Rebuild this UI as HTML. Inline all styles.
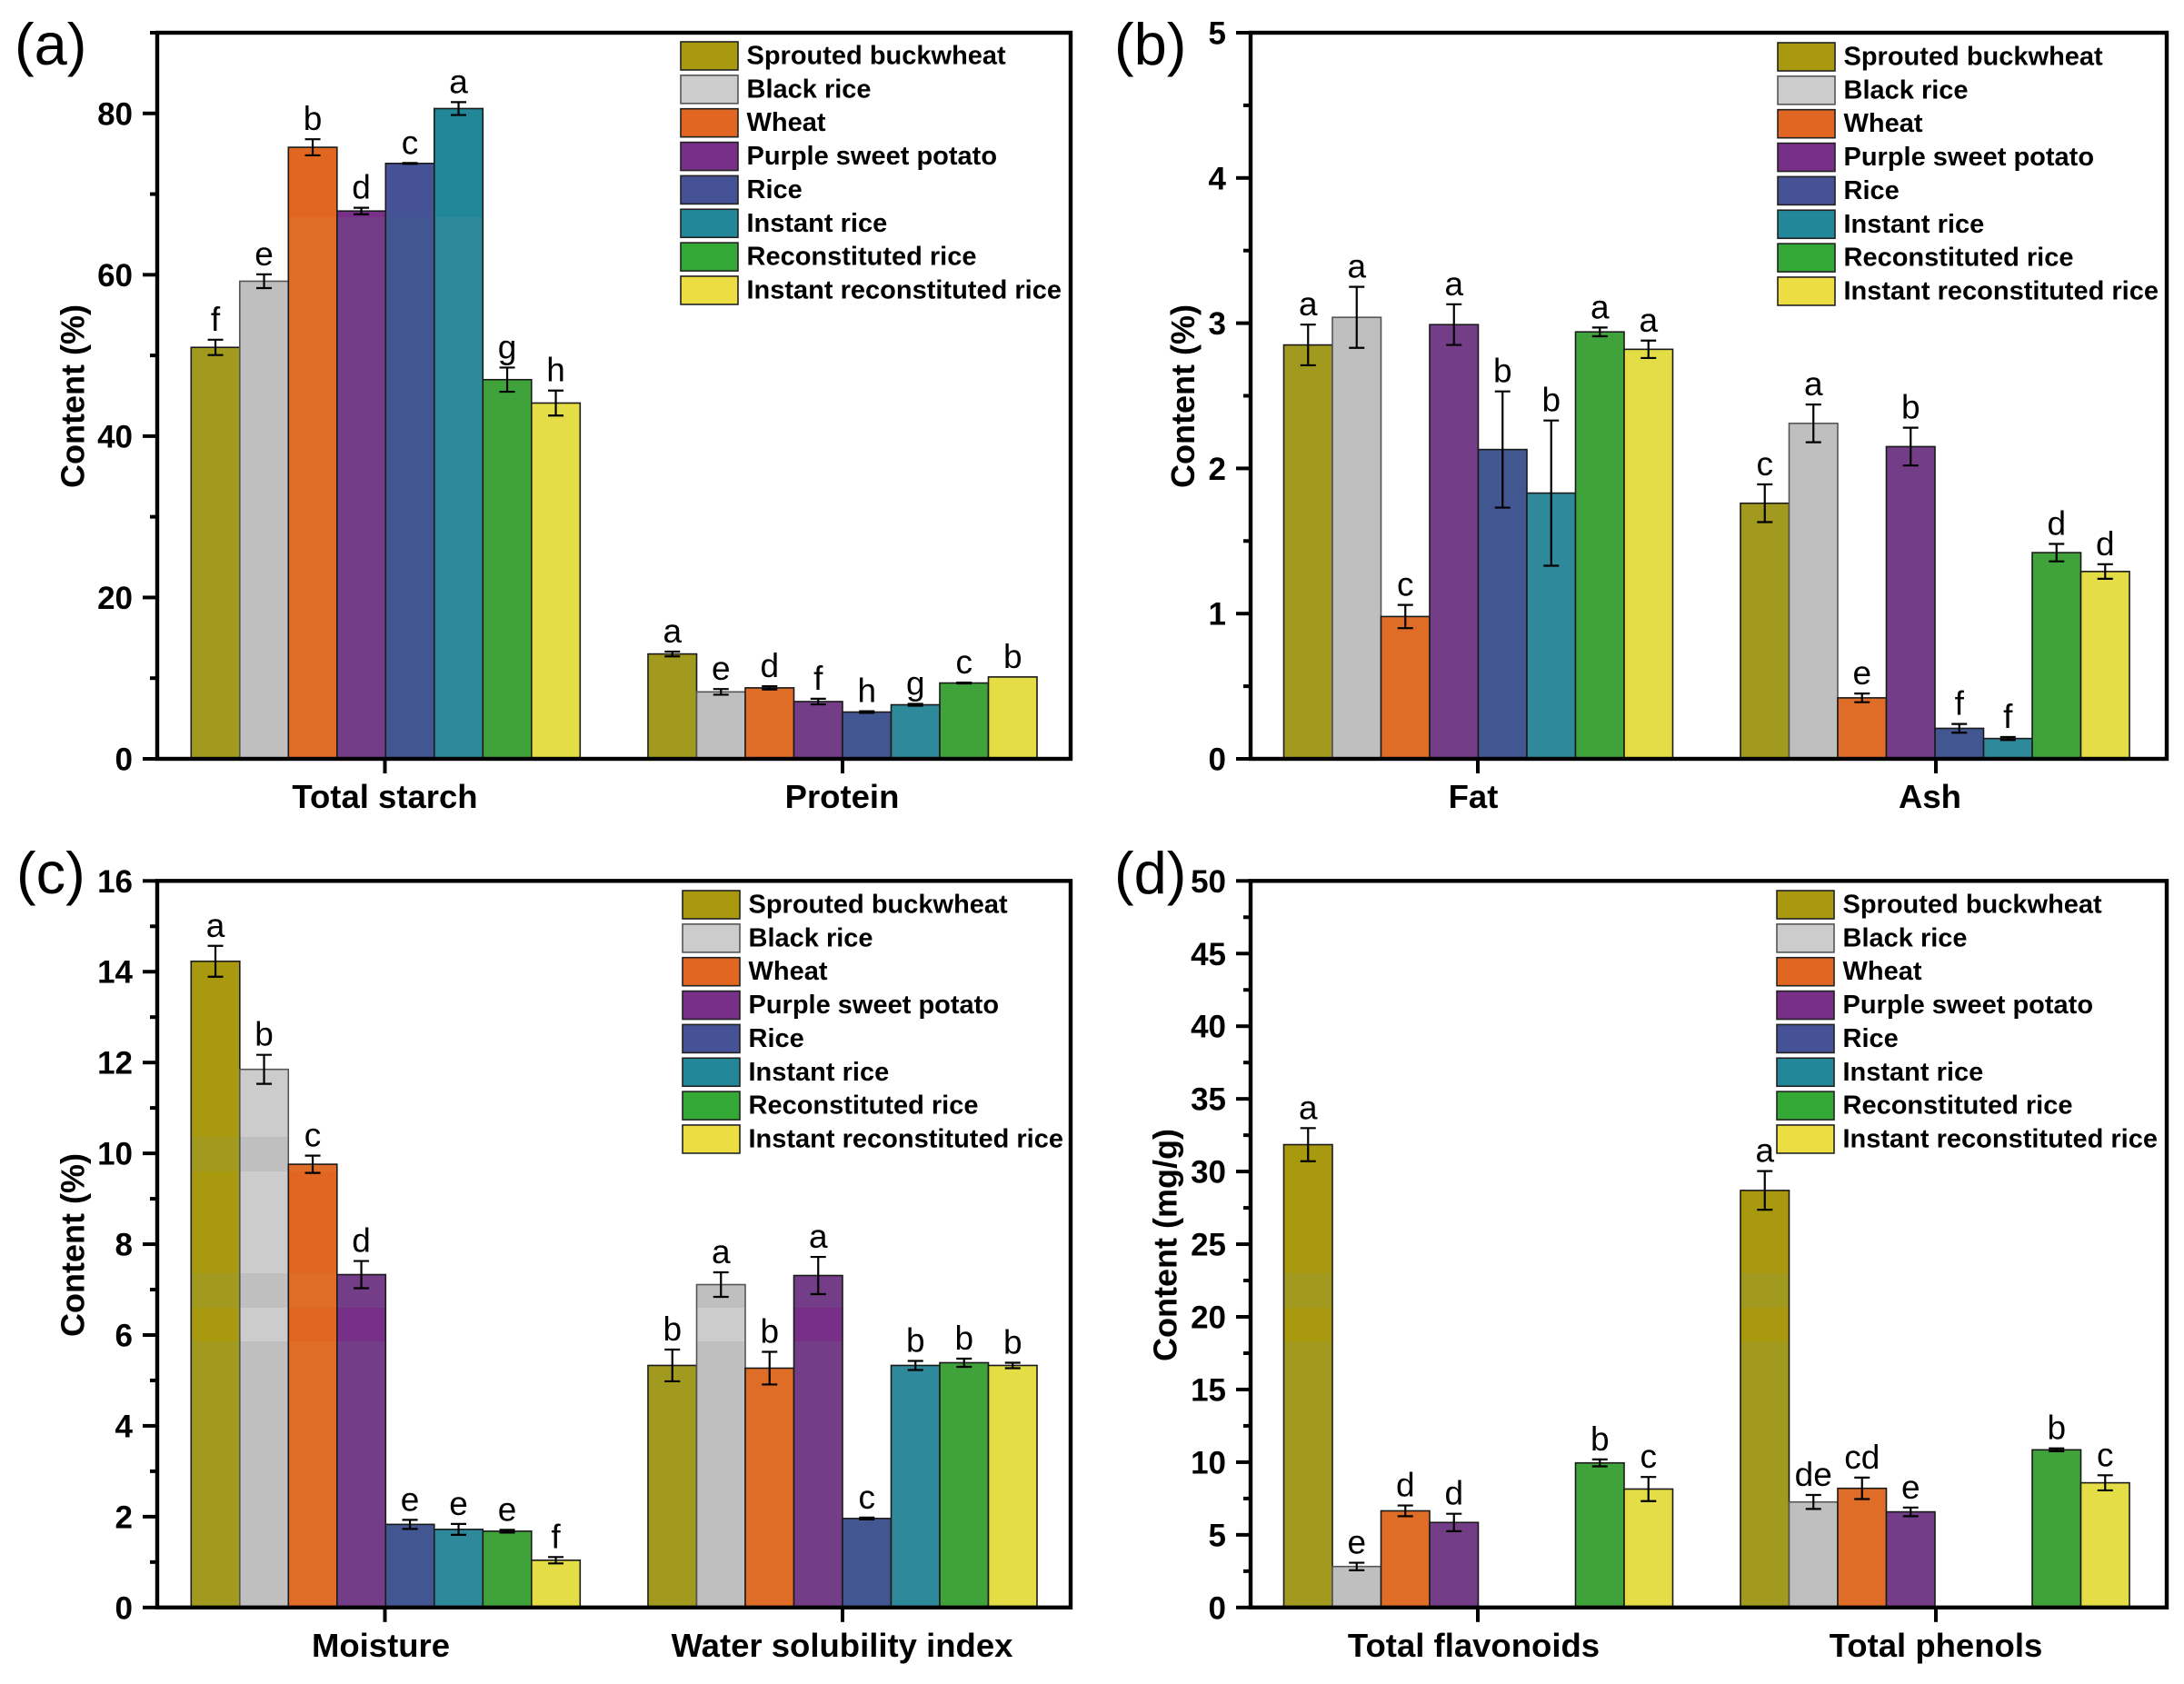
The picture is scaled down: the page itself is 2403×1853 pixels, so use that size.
<!DOCTYPE html>
<html lang="en">
<head>
<meta charset="utf-8">
<title>Composition of buckwheat, rice and wheat samples</title>
<style>
  html, body { margin: 0; padding: 0; background: #fff; }
  svg { display: block; font-family: "Liberation Sans", Arial, sans-serif; }
</style>
</head>
<body>
<svg id="figure" xmlns="http://www.w3.org/2000/svg" width="2403" height="1853" viewBox="0 0 2403 1853">
  <rect x="0" y="0" width="2403" height="1853" fill="#ffffff"/>
  <defs id="gradient-defs"></defs>
</svg>
<script>
// Series and colours
const seriesNames = ["Sprouted buckwheat", "Black rice", "Wheat", "Purple sweet potato", "Rice", "Instant rice", "Reconstituted rice", "Instant reconstituted rice"];
const brightColors = ["#A9990F", "#CCCCCC", "#E06622", "#772F88", "#465296", "#228799", "#34A835", "#EBDD42"];
const dullColors = ["#A29A1F", "#BFBFBF", "#DF6D28", "#733D87", "#425692", "#2E8A9B", "#40A23A", "#E4DD45"];

// Panel (a)
const panelACategories = ["Total starch", "Protein"];
const starchValues = [51, 59.2, 75.8, 67.9, 73.8, 80.6, 47, 44.1];
const starchErrors = [0.95, 0.85, 1, 0.4, 0.05, 0.8, 1.5, 1.55];
const starchLetters = ["f", "e", "b", "d", "c", "a", "g", "h"];
const proteinValues = [13, 8.3, 8.8, 7.1, 5.8, 6.7, 9.4, 10.15];
const proteinErrors = [0.3, 0.35, 0.2, 0.35, 0.1, 0.12, 0.05, 0];
const proteinLetters = ["a", "e", "d", "f", "h", "g", "c", "b"];
const panelATicks = [0, 20, 40, 60, 80];
const panelAMinorTicks = [10, 30, 50, 70, 90];

// Panel (b)
const panelBCategories = ["Fat", "Ash"];
const fatValues = [2.85, 3.04, 0.98, 2.99, 2.13, 1.83, 2.94, 2.82];
const fatErrors = [0.14, 0.21, 0.08, 0.14, 0.4, 0.5, 0.03, 0.06];
const fatLetters = ["a", "a", "c", "a", "b", "b", "a", "a"];
const ashValues = [1.76, 2.31, 0.42, 2.15, 0.21, 0.14, 1.42, 1.29];
const ashErrors = [0.13, 0.13, 0.03, 0.13, 0.03, 0.01, 0.06, 0.05];
const ashLetters = ["c", "a", "e", "b", "f", "f", "d", "d"];
const panelBTicks = [0, 1, 2, 3, 4, 5];
const panelBMinorTicks = [0.5, 1.5, 2.5, 3.5, 4.5];

// Panel (c)
const panelCCategories = ["Moisture", "Water solubility index"];
const moistureValues = [14.23, 11.85, 9.76, 7.33, 1.83, 1.72, 1.68, 1.04];
const moistureErrors = [0.34, 0.32, 0.19, 0.3, 0.1, 0.12, 0.03, 0.07];
const moistureLetters = ["a", "b", "c", "d", "e", "e", "e", "f"];
const solubilityValues = [5.33, 7.11, 5.27, 7.31, 1.96, 5.33, 5.39, 5.33];
const solubilityErrors = [0.35, 0.27, 0.36, 0.41, 0.02, 0.1, 0.09, 0.06];
const solubilityLetters = ["b", "a", "b", "a", "c", "b", "b", "b"];
const panelCTicks = [0, 2, 4, 6, 8, 10, 12, 14, 16];
const panelCMinorTicks = [1, 3, 5, 7, 9, 11, 13, 15];

// Panel (d)
const panelDCategories = ["Total flavonoids", "Total phenols"];
const flavonoidValues = [31.85, 2.82, 6.65, 5.85, null, null, 9.95, 8.15];
const flavonoidErrors = [1.14, 0.26, 0.37, 0.6, 0, 0, 0.24, 0.83];
const flavonoidLetters = ["a", "e", "d", "d", "", "", "b", "c"];
const phenolValues = [28.7, 7.26, 8.2, 6.58, null, null, 10.85, 8.58];
const phenolErrors = [1.33, 0.48, 0.74, 0.3, 0, 0, 0.1, 0.52];
const phenolLetters = ["a", "de", "cd", "e", "", "", "b", "c"];
const panelDTicks = [0, 5, 10, 15, 20, 25, 30, 35, 40, 45, 50];
const panelDMinorTicks = [2.5, 7.5, 12.5, 17.5, 22.5, 27.5, 32.5, 37.5, 42.5, 47.5];

const NS = "http://www.w3.org/2000/svg";
const figure = document.getElementById("figure");
const defs = document.getElementById("gradient-defs");
const BAR_W = 53.5;

function make(tag, parent, attrs, text) {
  const el = document.createElementNS(NS, tag);
  for (const k in attrs) el.setAttribute(k, attrs[k]);
  if (text !== undefined) el.textContent = text;
  parent.appendChild(el);
  return el;
}

const panels = [
  { id: "a", label: "(a)", labelX: 16, labelY: 71, left: 173, right: 1178, top: 36, bottom: 835, yMax: 90, ticks: panelATicks, minor: panelAMinorTicks,
    centers: [424.3, 927], tickAt: [423.5, 927], labelAt: [423.5, 926.5], categories: panelACategories, values: [starchValues, proteinValues], errors: [starchErrors, proteinErrors], letters: [starchLetters, proteinLetters],
    title: "Content (%)", titleX: 92.5, titleY: 436, legendX: 749, legendY: 46, dullBelow: [[239, 900]] },
  { id: "b", label: "(b)", labelX: 1226, labelY: 71, left: 1376, right: 2384, top: 36, bottom: 835, yMax: 5, ticks: panelBTicks, minor: panelBMinorTicks,
    centers: [1626.5, 2129], tickAt: [1626, 2130], labelAt: [1621, 2123.5], categories: panelBCategories, values: [fatValues, ashValues], errors: [fatErrors, ashErrors], letters: [fatLetters, ashLetters],
    title: "Content (%)", titleX: 1314, titleY: 436, legendX: 1956, legendY: 47, dullBelow: [[0, 900]] },
  { id: "c", label: "(c)", labelX: 18, labelY: 983, left: 173, right: 1178, top: 969.3, bottom: 1768.8, yMax: 16, ticks: panelCTicks, minor: panelCMinorTicks,
    centers: [424.3, 927], tickAt: [423.5, 927], labelAt: [419, 926.5], categories: panelCCategories, values: [moistureValues, solubilityValues], errors: [moistureErrors, solubilityErrors], letters: [moistureLetters, solubilityLetters],
    title: "Content (%)", titleX: 92.5, titleY: 1370, legendX: 751, legendY: 980, dullBelow: [[1251, 1289], [1401, 1439], [1476, 1853]] },
  { id: "d", label: "(d)", labelX: 1226, labelY: 983, left: 1376, right: 2384, top: 969.3, bottom: 1768.8, yMax: 50, ticks: panelDTicks, minor: panelDMinorTicks,
    centers: [1626.5, 2129], tickAt: [1626, 2130], labelAt: [1621.5, 2130], categories: panelDCategories, values: [flavonoidValues, phenolValues], errors: [flavonoidErrors, phenolErrors], letters: [flavonoidLetters, phenolLetters],
    title: "Content (mg/g)", titleX: 1294.5, titleY: 1370, legendX: 1955, legendY: 980, dullBelow: [[1401, 1439], [1476, 1853]] }
];

function bandGradient(panel, s) {
  const gid = "fill-" + panel.id + "-" + s;
  const g = make("linearGradient", defs, { id: gid, gradientUnits: "userSpaceOnUse", x1: 0, x2: 0, y1: 0, y2: 1853 });
  const H = 1853;
  let cursor = 0;
  function stop(y, color) { make("stop", g, { offset: (y / H).toFixed(5), "stop-color": color }); }
  panel.dullBelow.forEach(function (band) {
    stop(cursor, brightColors[s]);
    stop(band[0], brightColors[s]);
    stop(band[0], dullColors[s]);
    stop(band[1], dullColors[s]);
    cursor = band[1];
  });
  stop(cursor, brightColors[s]);
  stop(H, brightColors[s]);
  return "url(#" + gid + ")";
}

panels.forEach(function (p) {
  const yScale = function (v) { return p.bottom - (v / p.yMax) * (p.bottom - p.top); };
  const xScale = function (g, s) { return p.centers[g] + (s - 4) * BAR_W; };

  const group = make("g", figure, {});
  
  

  const fills = seriesNames.map(function (_, s) { return bandGradient(p, s); });

  // Bars, error bars and significance letters
  p.categories.forEach(function (cat, g) {
    const vals = p.values[g];
    const errs = p.errors[g];
    const lets = p.letters[g];
    vals.forEach(function (v, s) {
      if (v === null) return;
      const x = xScale(g, s);
      const y = yScale(v);
      const bar = make("rect", group, {
        x: x, y: y, width: BAR_W, height: p.bottom - y, fill: fills[s],
        stroke: s === 1 ? "#555555" : "#1a1a1a", "stroke-width": 1.6
      });
      
      
    });
    vals.forEach(function (v, s) {
      if (v === null) return;
      const cx = xScale(g, s) + BAR_W / 2;
      const yHi = yScale(v + errs[s]);
      const yLo = yScale(v - errs[s]);
      if (errs[s] > 0) {
        const err = make("path", group, {
          d: "M" + (cx - 8.5) + " " + yHi + "H" + (cx + 8.5) + "M" + cx + " " + yHi + "V" + yLo + "M" + (cx - 8.5) + " " + yLo + "H" + (cx + 8.5),
          fill: "none", stroke: "#000000", "stroke-width": 2.2
        });
        
        
      }
      const letter = make("text", group, {
        x: cx, y: yHi - 10, "text-anchor": "middle", "font-size": 37, fill: "#000000"
      }, lets[s]);
      
      
    });

    // Category tick and label
    const xt = make("line", group, { x1: p.tickAt[g], x2: p.tickAt[g], y1: p.bottom, y2: p.bottom + 16, stroke: "#000000", "stroke-width": 4 });
    
    
    const xl = make("text", group, {
      x: p.labelAt[g], y: p.bottom + 54, "text-anchor": "middle", "font-size": 36.5, "font-weight": "bold", fill: "#000000"
    }, cat);
    
    
  });

  // Frame
  const frame = make("rect", group, {
    x: p.left, y: p.top, width: p.right - p.left, height: p.bottom - p.top,
    fill: "none", stroke: "#000000", "stroke-width": 4.4
  });
  
  

  // Y ticks
  p.ticks.forEach(function (t) {
    const y = yScale(t);
    const tick = make("line", group, { x1: p.left - 16, x2: p.left, y1: y, y2: y, stroke: "#000000", "stroke-width": 4 });
    
    
    const lab = make("text", group, {
      x: p.left - 27, y: y + 12.5, "text-anchor": "end", "font-size": 35, "font-weight": "bold", fill: "#000000"
    }, String(t));
    
    
  });
  p.minor.forEach(function (t) {
    const y = yScale(t);
    const tick = make("line", group, { x1: p.left - 8, x2: p.left, y1: y, y2: y, stroke: "#000000", "stroke-width": 4 });
    
    
  });

  // Axis title
  const title = make("text", group, {
    x: p.titleX, y: p.titleY, "text-anchor": "middle", "font-size": 36, "font-weight": "bold", fill: "#000000",
    transform: "rotate(-90 " + p.titleX + " " + p.titleY + ")"
  }, p.title);
  
  

  // Panel label
  const panelLabel = make("text", group, { x: p.labelX, y: p.labelY, "font-size": 65, fill: "#000000" }, p.label);
  
  

  // Legend
  const legend = make("g", group, {});
  
  
  seriesNames.forEach(function (name, s) {
    const ly = p.legendY + s * 36.85;
    const sw = make("rect", legend, {
      x: p.legendX, y: ly, width: 63, height: 31, fill: brightColors[s],
      stroke: s === 1 ? "#555555" : "#222222", "stroke-width": 1.6
    });
    
    
    const tx = make("text", legend, {
      x: p.legendX + 72.5, y: ly + 24.5, "font-size": 29, "font-weight": "bold", fill: "#000000"
    }, name);
    
    
  });
});
</script>
</body>
</html>
